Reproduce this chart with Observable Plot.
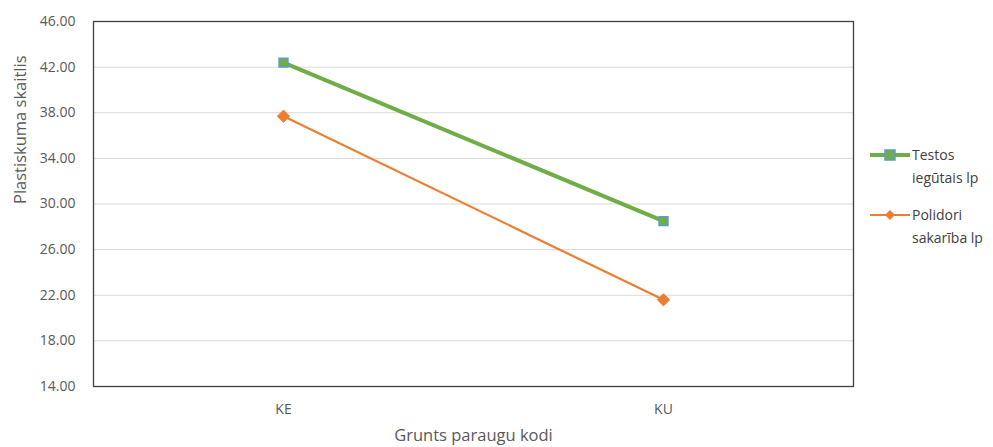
<!DOCTYPE html>
<html>
<head>
<meta charset="utf-8">
<script src="https://cdn.jsdelivr.net/npm/d3@7"></script>
<script src="https://cdn.jsdelivr.net/npm/@observablehq/plot@0.6"></script>
<style>
  body { margin: 0; background: #fff; }
  #wrap { position: relative; width: 993px; height: 447px; font-family: "Open Sans", sans-serif; }
  #legend { position: absolute; left: 868px; top: 143px; font-size: 14px; color: #404040; line-height: 23px; }
  .item { display: flex; align-items: flex-start; margin-bottom: 14px; }
  .item svg { flex: none; margin-top: 1px; }
</style>
</head>
<body>
<div id="wrap"></div>
<script>
const categories = ["KE", "KU"];
const testosValues = [42.4, 28.5];
const polidoriValues = [37.7, 21.6];
const seriesNames = ["Testos iegūtais lp", "Polidori sakarība lp"];
const yTicks = [14, 18, 22, 26, 30, 34, 38, 42, 46];
const yTitle = "Plastiskuma skaitlis";
const xTitle = "Grunts paraugu kodi";

const testos = categories.map((c, i) => ({cat: c, v: testosValues[i]}));
const polidori = categories.map((c, i) => ({cat: c, v: polidoriValues[i]}));

const green = "#70AD47", orange = "#ED7D31", blue = "#5B9BD5";

const chart = Plot.plot({
  width: 993,
  height: 447,
  marginLeft: 93,
  marginRight: 140,
  marginTop: 21,
  marginBottom: 61,
  style: {fontFamily: "Open Sans, sans-serif", fontSize: "14px", color: "#595959", background: "#fff"},
  x: {type: "point", domain: categories, padding: 0.5},
  y: {domain: [14, 46]},
  marks: [
    Plot.gridY(yTicks, {stroke: "#d9d9d9", strokeOpacity: 1}),
    Plot.axisY(yTicks, {tickSize: 0, tickPadding: 18, tickFormat: d => d.toFixed(2), fill: "#595959", label: null}),
    Plot.axisX({tickSize: 0, tickPadding: 18, fill: "#595959", label: null}),
    Plot.text([yTitle], {frameAnchor: "left", dx: -73, rotate: -90, fontSize: 16.5, fill: "#595959"}),
    Plot.text([xTitle], {frameAnchor: "bottom", dy: 49, lineAnchor: "middle", fontSize: 16.5, fill: "#595959"}),
    Plot.frame({stroke: "#404040", strokeWidth: 1.3}),
    Plot.line(polidori, {x: "cat", y: "v", stroke: orange, strokeWidth: 2.2}),
    Plot.dot(polidori, {x: "cat", y: "v", symbol: "diamond2", r: 5.5, fill: orange, stroke: orange, strokeWidth: 1}),
    Plot.line(testos, {x: "cat", y: "v", stroke: green, strokeWidth: 4}),
    Plot.dot(testos, {x: "cat", y: "v", symbol: "square", r: 5, fill: green, stroke: blue, strokeWidth: 1.5})
  ]
});

const wrap = document.getElementById("wrap");
wrap.appendChild(chart);

const legend = document.createElement("div");
legend.id = "legend";
const swatches = [
  `<svg width="44" height="22"><line x1="2" x2="42" y1="11" y2="11" stroke="${green}" stroke-width="4"/><rect x="17" y="6" width="10" height="10" fill="${green}" stroke="${blue}" stroke-width="1.5"/></svg>`,
  `<svg width="44" height="22"><line x1="2" x2="42" y1="11" y2="11" stroke="${orange}" stroke-width="2.2"/><path d="M22,6 L27,11 L22,16 L17,11 Z" fill="${orange}"/></svg>`
];
const lines = [["Testos", "iegūtais lp"], ["Polidori", "sakarība lp"]];
legend.innerHTML = seriesNames.map((n, i) =>
  `<div class="item" title="${n}">${swatches[i]}<div>${lines[i][0]}<br>${lines[i][1]}</div></div>`).join("");
wrap.appendChild(legend);
</script>
</body>
</html>
